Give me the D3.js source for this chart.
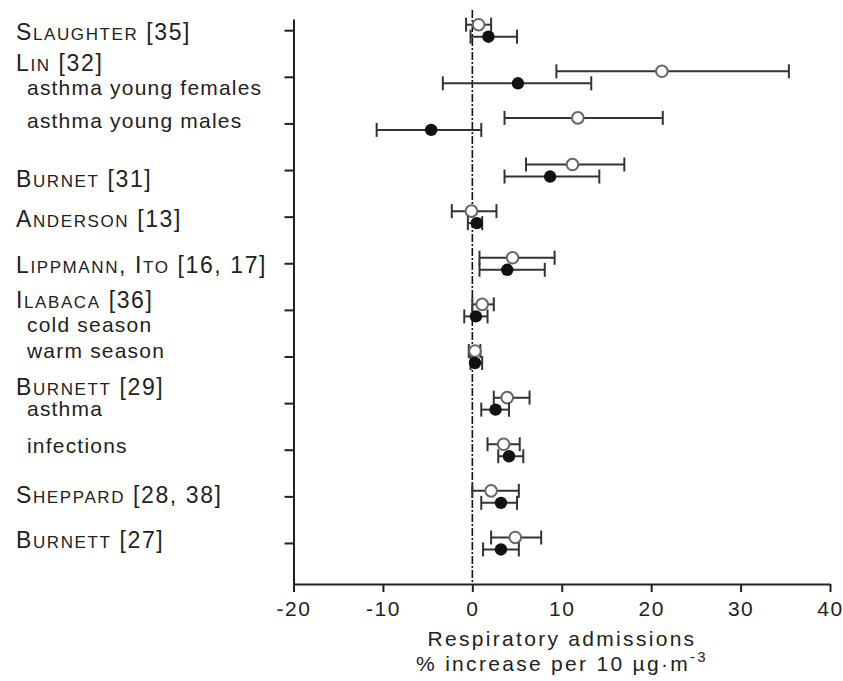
<!DOCTYPE html>
<html>
<head>
<meta charset="utf-8">
<script src="https://cdn.jsdelivr.net/npm/d3@7"></script>
<style>
  body { margin: 0; background: #fff; }
  svg text { font-family: "Liberation Sans", Arial, sans-serif; fill: #222; }
</style>
</head>
<body>
<svg id="chart" width="843" height="681"></svg>
<script>
// rows from top (0) to bottom (11)
const rowIds = d3.range(12);
// open circles
const openMean = [0.7, 21.2, 11.8, 11.2, -0.1, 4.5, 1.1, 0.3, 3.9, 3.5, 2.1, 4.8];
const openLo   = [-0.7, 9.4, 3.6, 6.0, -2.3, 0.8, 0.0, -0.4, 2.4, 1.7, 0.0, 2.1];
const openHi   = [2.1, 35.4, 21.3, 17.0, 2.7, 9.2, 2.4, 0.9, 6.4, 5.3, 5.2, 7.7];
// filled circles
const fillMean = [1.8, 5.1, -4.6, 8.7, 0.5, 3.9, 0.4, 0.3, 2.6, 4.1, 3.2, 3.2];
const fillLo   = [-0.2, -3.3, -10.7, 3.6, -0.5, 0.8, -0.9, -0.2, 1.0, 2.9, 1.0, 1.2];
const fillHi   = [5.0, 13.3, 1.0, 14.2, 1.1, 8.1, 1.7, 1.1, 4.1, 5.7, 5.0, 5.2];

const xTicks = [-20, -10, 0, 10, 20, 30, 40];

// study labels: text, row position (baseline), heading or sub label
const labelText = ["Slaughter [35]", "Lin [32]", "asthma young females", "asthma young males",
  "Burnet [31]", "Anderson [13]", "Lippmann, Ito [16, 17]", "Ilabaca [36]", "cold season",
  "warm season", "Burnett [29]", "asthma", "infections", "Sheppard [28, 38]", "Burnett [27]"];
const labelRow = [0.21, 0.88, 1.39, 2.10, 3.37, 4.22, 5.21, 5.96, 6.47, 7.03, 7.83, 8.28, 9.07, 10.14, 11.11];
const labelSub = [false, false, true, true, false, false, false, false, true, true, false, true, true, false, false];

const svg = d3.select("#chart");

const x = d3.scaleLinear().domain([-20, 40]).range([293.5, 830]);
const y = d3.scaleLinear().domain([-0.24, 11.88]).range([19, 584]);

// axes
const yAxis = svg.append("g")
  .attr("transform", `translate(${x(-20)},0)`)
  .call(d3.axisLeft(y).tickValues(rowIds).tickFormat("").tickSizeInner(9).tickSizeOuter(0));
const xAxis = svg.append("g")
  .attr("transform", `translate(0,${y(11.88)})`)
  .call(d3.axisBottom(x).tickValues(xTicks).tickFormat(d => String(d))
    .tickSizeInner(8).tickSizeOuter(0).tickPadding(9));
[yAxis, xAxis].forEach(g => {
  g.select(".domain").attr("stroke", "#222").attr("stroke-width", 2);
  g.selectAll(".tick line").attr("stroke", "#222").attr("stroke-width", 2);
});
xAxis.selectAll(".tick text")
  .attr("font-size", 21).attr("fill", "#222").attr("letter-spacing", 1.5)
  .style("font-family", "Liberation Sans, Arial, sans-serif");

// reference line at 0
svg.append("line")
  .attr("x1", x(0)).attr("x2", x(0))
  .attr("y1", 10).attr("y2", y(11.88))
  .attr("stroke", "#111").attr("stroke-width", 1.6)
  .attr("stroke-dasharray", "8,2,2,2");

// error bars + points
function series(mean, lo, hi, dy) {
  const g = svg.append("g");
  rowIds.forEach(i => {
    const cy = y(i) + dy;
    g.append("line").attr("x1", x(lo[i])).attr("x2", x(hi[i]))
      .attr("y1", cy).attr("y2", cy).attr("stroke", "#333").attr("stroke-width", 2);
    [lo[i], hi[i]].forEach(v => {
      g.append("line").attr("x1", x(v)).attr("x2", x(v))
        .attr("y1", cy - 7).attr("y2", cy + 7).attr("stroke", "#333").attr("stroke-width", 2);
    });
  });
  return g;
}
const gOpen = series(openMean, openLo, openHi, -5.5);
const gFill = series(fillMean, fillLo, fillHi, 6.5);
gOpen.selectAll("circle.pt").data(rowIds).join("circle")
  .attr("cx", i => x(openMean[i])).attr("cy", i => y(i) - 5.5).attr("r", 5.8)
  .attr("fill", "#fff").attr("stroke", "#666").attr("stroke-width", 2);
gFill.selectAll("circle.pt").data(rowIds).join("circle")
  .attr("cx", i => x(fillMean[i])).attr("cy", i => y(i) + 6.5).attr("r", 6.2)
  .attr("fill", "#111");

// labels (headings in small caps)
labelText.forEach((t, k) => {
  const txt = svg.append("text")
    .attr("x", labelSub[k] ? 27 : 16).attr("y", y(labelRow[k]))
    .attr("font-size", labelSub[k] ? 21 : 23).attr("letter-spacing", labelSub[k] ? 1.2 : 1.6);
  if (labelSub[k]) { txt.text(t); return; }
  const cut = t.indexOf("[");
  const name = t.slice(0, cut), rest = t.slice(cut);
  // group characters into runs of full size / small caps
  let runs = [];
  for (const ch of name) {
    const small = ch >= "a" && ch <= "z";
    if (runs.length && runs[runs.length - 1].small === small) runs[runs.length - 1].s += ch;
    else runs.push({ small, s: ch });
  }
  runs.forEach(r => {
    txt.append("tspan").attr("font-size", r.small ? 17 : 23).text(r.small ? r.s.toUpperCase() : r.s);
  });
  txt.append("tspan").text(rest);
});

// axis title
const title = svg.append("text").attr("text-anchor", "middle").attr("font-size", 21).attr("letter-spacing", 2.3);
title.append("tspan").attr("x", 562).attr("y", 646).text("Respiratory admissions");
const t2 = title.append("tspan").attr("x", 562).attr("y", 671);
t2.append("tspan").text("% increase per 10 \u00b5g\u00b7m");
t2.append("tspan").attr("font-size", 15).attr("dy", -9).text("-3");
</script>
</body>
</html>
